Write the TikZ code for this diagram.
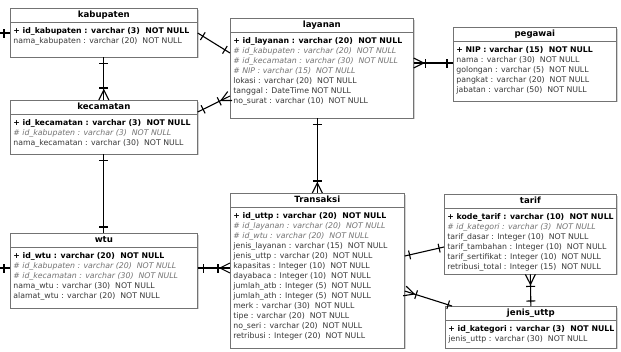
\documentclass[tikz,border=0pt]{standalone}
\usepackage{fontspec}
\setmainfont{DejaVu Sans}
\usepackage{array}
\usepackage{colortbl}
\usetikzlibrary{calc}
\usetikzlibrary{shadows}
\usetikzlibrary{decorations.markings}

\tikzset{
	entity/.style = {draw = black!55, line width = 0.7pt, fill = white, inner sep = 0pt, anchor = north west,
		font = \fontsize{7.8}{10}\selectfont, text = black!78,
		drop shadow = {opacity = 0.35, shadow xshift = 1.2pt, shadow yshift = -1.2pt}},
	rel/.style = {draw = black, line width = 1.1pt},
	one at/.style = {postaction = {decorate, decoration = {markings,
		mark = at position #1 with {\draw[line width = 1.1pt] (0pt,-4.5pt) -- (0pt,4.5pt);}}}},
	many start/.style = {postaction = {decorate, decoration = {markings,
		mark = at position 12pt with {\draw[line width = 1.1pt] (0pt,-4.5pt) -- (0pt,4.5pt);
			\draw[line width = 1.1pt] (-12pt,5pt) -- (-2pt,0pt) -- (-12pt,-5pt);}}}},
	many end/.style = {postaction = {decorate, decoration = {markings,
		mark = at position -12pt with {\draw[line width = 1.1pt] (0pt,-4.5pt) -- (0pt,4.5pt);
			\draw[line width = 1.1pt] (12pt,5pt) -- (2pt,0pt) -- (12pt,-5pt);}}}}
}

\setlength{\arrayrulewidth}{0.7pt}
\arrayrulecolor{black!55}
% table: width, title, rows, bottom padding
\newcommand{\entity}[4]{%
	\begin{tabular}{@{\hspace{3pt}}p{#1}@{}}
		\multicolumn{1}{@{}c@{}}{\fontsize{8.6}{10}\selectfont\textbf{\color{black}#2}\rule[-4.5pt]{0pt}{14pt}}\\\hline
		\rule{0pt}{10pt}#3\\[#4]
	\end{tabular}}
\newcommand{\pk}[1]{\leavevmode{\bfseries\color{black}+ #1}}
\newcommand{\fk}[1]{\leavevmode{\itshape\color{black!55}\# #1}}

\begin{document}
\begin{tikzpicture}[x = 1pt, y = -1pt]
	\useasboundingbox (0,0) rectangle (621,351);
	
	% Tables
	\node[entity] (kabupaten) at (10,8) {\entity{184pt}{kabupaten}{%
		\pk{id\_kabupaten : varchar (3)~ NOT NULL}\\
		nama\_kabupaten : varchar (20)~ NOT NULL}{11pt}};
	\node[entity] (kecamatan) at (10,100) {\entity{184pt}{kecamatan}{%
		\pk{id\_kecamatan : varchar (3)~ NOT NULL}\\
		\fk{id\_kabupaten : varchar (3)~ NOT NULL}\\
		nama\_kecamatan : varchar (30)~ NOT NULL}{6pt}};
	\node[entity] (layanan) at (230,18) {\entity{180pt}{layanan}{%
		\pk{id\_layanan : varchar (20)~ NOT NULL}\\
		\fk{id\_kabupaten : varchar (20)~ NOT NULL}\\
		\fk{id\_kecamatan : varchar (30)~ NOT NULL}\\
		\fk{NIP : varchar (15)~ NOT NULL}\\
		lokasi : varchar (20)~ NOT NULL\\
		tanggal : DateTime NOT NULL\\
		no\_surat : varchar (10)~ NOT NULL}{12pt}};
	\node[entity] (pegawai) at (453,27) {\entity{160pt}{pegawai}{%
		\pk{NIP : varchar (15)~ NOT NULL}\\
		nama : varchar (30)~ NOT NULL\\
		golongan : varchar (5)~ NOT NULL\\
		pangkat : varchar (20)~ NOT NULL\\
		jabatan : varchar (50)~ NOT NULL}{6pt}};
	\node[entity] (wtu) at (10,233) {\entity{184pt}{wtu}{%
		\pk{id\_wtu : varchar (20)~ NOT NULL}\\
		\fk{id\_kabupaten : varchar (20)~ NOT NULL}\\
		\fk{id\_kecamatan : varchar (30)~ NOT NULL}\\
		nama\_wtu : varchar (30)~ NOT NULL\\
		alamat\_wtu : varchar (20)~ NOT NULL}{7pt}};
	\node[entity] (transaksi) at (230,193) {\entity{171pt}{Transaksi}{%
		\pk{id\_uttp : varchar (20)~ NOT NULL}\\
		\fk{id\_layanan : varchar (20)~ NOT NULL}\\
		\fk{id\_wtu : varchar (20)~ NOT NULL}\\
		jenis\_layanan : varchar (15)~ NOT NULL\\
		jenis\_uttp : varchar (20)~ NOT NULL\\
		kapasitas : Integer (10)~ NOT NULL\\
		dayabaca : Integer (10)~ NOT NULL\\
		jumlah\_atb : Integer (5)~ NOT NULL\\
		jumlah\_ath : Integer (5)~ NOT NULL\\
		merk : varchar (30)~ NOT NULL\\
		tipe : varchar (20)~ NOT NULL\\
		no\_seri : varchar (20)~ NOT NULL\\
		retribusi : Integer (20)~ NOT NULL}{7pt}};
	\node[entity] (tarif) at (444,194) {\entity{169pt}{tarif}{%
		\pk{kode\_tarif : varchar (10)~ NOT NULL}\\
		\fk{id\_kategori : varchar (3)~ NOT NULL}\\
		tarif\_dasar : Integer (10)~ NOT NULL\\
		tarif\_tambahan : Integer (10)~ NOT NULL\\
		tarif\_sertifikat : Integer (10)~ NOT NULL\\
		retribusi\_total : Integer (15)~ NOT NULL}{2pt}};
	\node[entity] (jenisuttp) at (445,306) {\entity{168pt}{jenis\_uttp}{%
		\pk{id\_kategori : varchar (3)~ NOT NULL}\\
		jenis\_uttp : varchar (30)~ NOT NULL}{4pt}};
	
	% Loose ends on the left
	\coordinate (kabstub) at (0,33);
	\coordinate (wtustub) at (0,268);
	
	% Relations
	\draw[rel, one at = 4pt] (kabstub) -- ([yshift = -25pt]kabupaten.north west);
	\draw[rel, one at = 4pt] (wtustub) -- ([yshift = -35pt]wtu.north west);
	\draw[rel, one at = 6pt, one at = -6pt] ([yshift = -25pt]kabupaten.north east) -- ([yshift = -35pt]layanan.north west);
	\draw[rel, one at = 6pt, many end] ([yshift = -12pt]kecamatan.north east) -- ([yshift = -78pt]layanan.north west);
	\draw[rel, one at = 6pt, many end] (kabupaten.south) -- (kecamatan.north);
	\draw[rel, one at = 6pt, one at = -6pt] (kecamatan.south) -- (wtu.north);
	\draw[rel, many start, one at = -6pt] ([yshift = -45pt]layanan.north east) -- ([yshift = -36pt]pegawai.north west);
	\draw[rel, one at = 6pt, many end] (transaksi.north |- layanan.south) -- (transaksi.north);
	\draw[rel, one at = 6pt, many end] ([yshift = -35pt]wtu.north east) -- ([yshift = -75pt]transaksi.north west);
	\draw[rel, one at = 5pt, one at = -5pt] ([yshift = -63pt]transaksi.north east) -- ([yshift = -53pt]tarif.north west);
	\draw[rel, many start, one at = -4pt] ([yshift = -98pt]transaksi.north east) -- ([xshift = 7pt]jenisuttp.north west);
	\draw[rel, many start, one at = -5pt] (tarif.south) -- (jenisuttp.north);
	
\end{tikzpicture}
\end{document}
